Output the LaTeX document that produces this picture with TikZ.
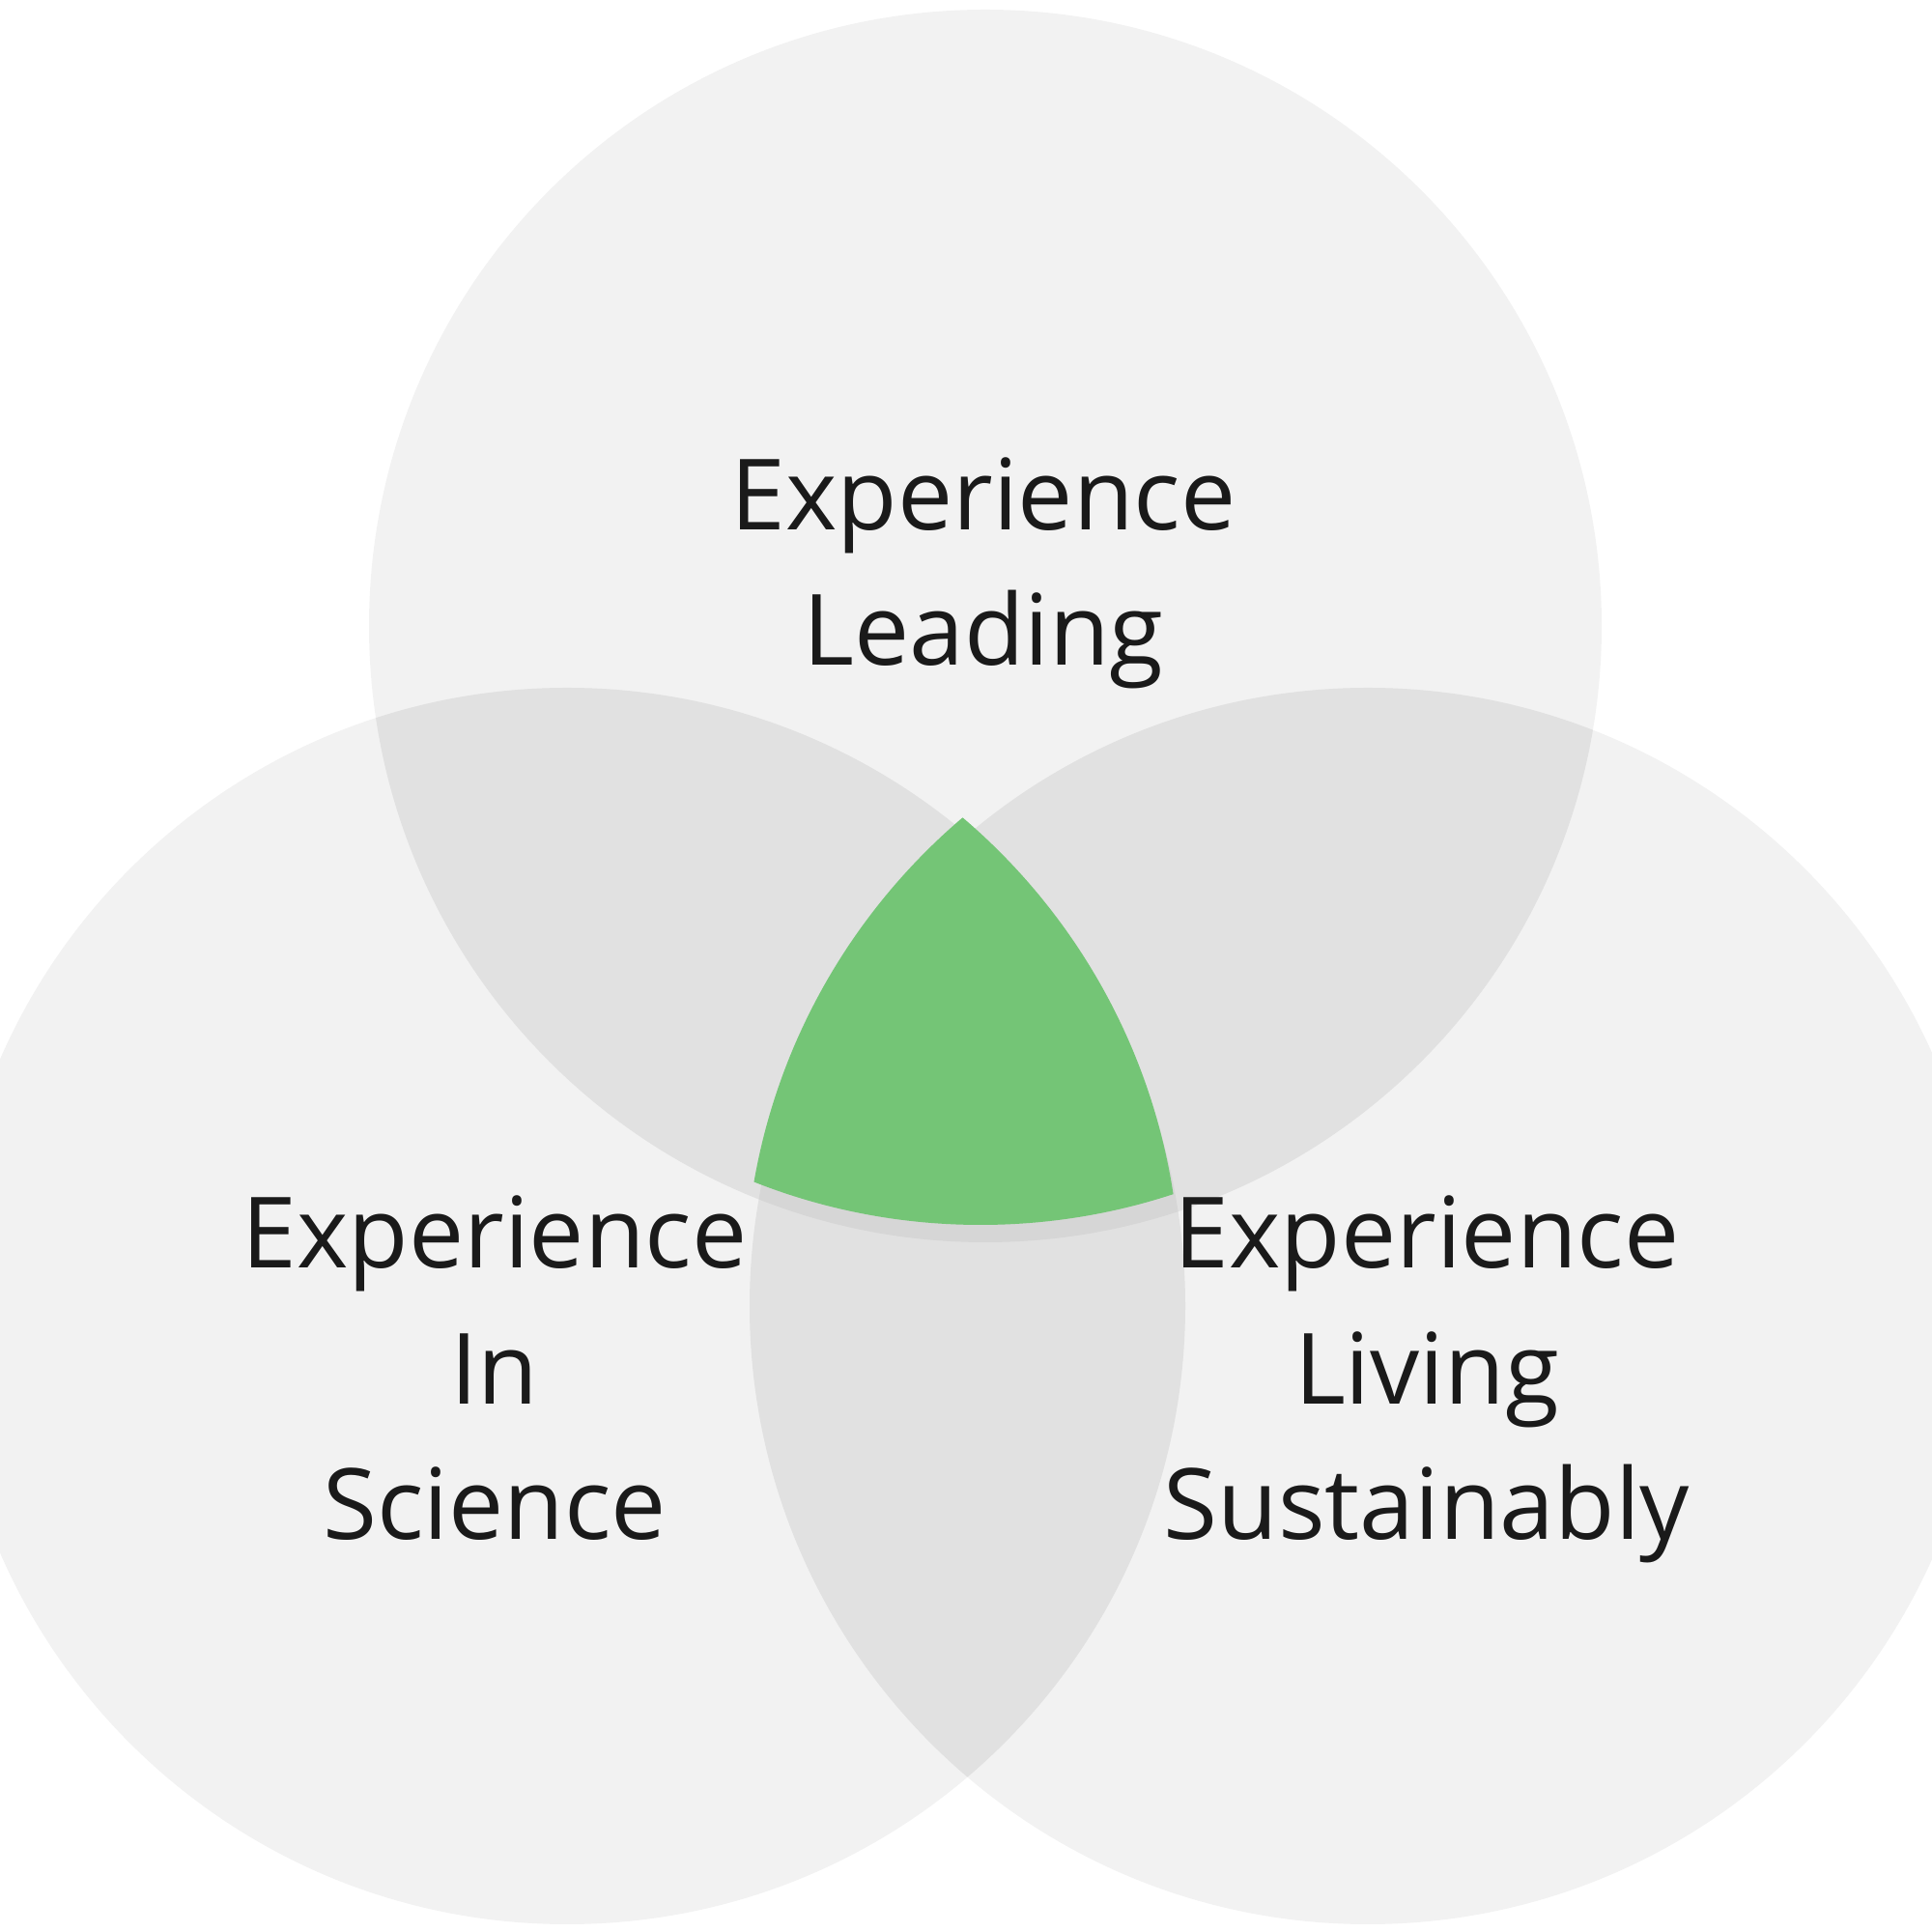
\documentclass[tikz,border=0pt]{standalone}
\usepackage{fontspec}
\setmainfont{Open Sans}
\usepackage{tikz}
\definecolor{grisclaro}{RGB}{242,242,242}
\definecolor{grismedio}{RGB}{225,225,225}
\definecolor{grissombra}{RGB}{214,214,214}
\definecolor{verde}{RGB}{116,197,118}
\definecolor{texto}{RGB}{26,26,26}
\tikzset{
    etiqueta/.style={
        align=center,
        text=texto,
        font=\fontsize{29}{40}\selectfont,
        inner sep=0pt
    }
}

\begin{document}
\begin{tikzpicture}

    \useasboundingbox (0,0) rectangle (20,20);
    \clip (0,0) rectangle (20,20);

    % Circulos
    \fill[grisclaro] (10.20,13.52) circle (6.38);
    \fill[grisclaro] (5.87,6.48) circle (6.40);
    \fill[grisclaro] (14.16,6.48) circle (6.40);

    % Intersecciones dobles
    \begin{scope}
        \clip (10.20,13.52) circle (6.38);
        \fill[grismedio] (5.87,6.48) circle (6.40);
        \fill[grismedio] (14.16,6.48) circle (6.40);
    \end{scope}
    \begin{scope}
        \clip (5.87,6.48) circle (6.40);
        \fill[grismedio] (14.16,6.48) circle (6.40);
    \end{scope}

    % Sombra del centro
    \begin{scope}
        \clip (10.20,13.52) circle (6.38);
        \clip (5.87,6.48) circle (6.40);
        \fill[grissombra] (14.16,6.48) circle (6.40);
    \end{scope}

    % Centro
    \begin{scope}[shift={(-0.05,0.18)}]
        \clip (10.20,13.52) circle (6.38);
        \clip (5.87,6.48) circle (6.40);
        \fill[verde] (14.16,6.48) circle (6.40);
    \end{scope}

    % Etiquetas (base = ultima linea)
    \node[etiqueta, anchor=base] (liderar)  at (10.18,13.11) {Experience\\Leading};
    \node[etiqueta, anchor=base] (ciencia)  at (5.12,4.06)   {Experience\\In\\Science};
    \node[etiqueta, anchor=base] (sostener) at (14.77,4.06)  {Experience\\Living\\Sustainably};

\end{tikzpicture}
\end{document}
